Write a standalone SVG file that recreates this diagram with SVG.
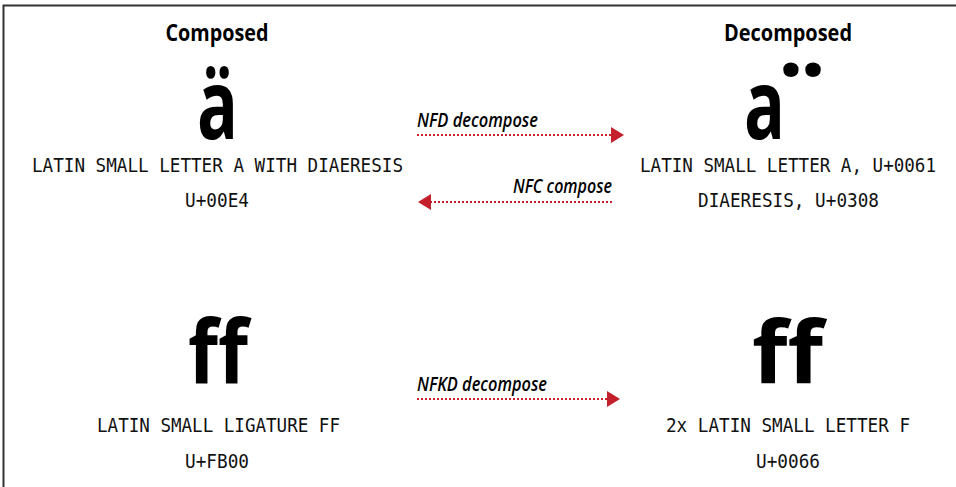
<svg xmlns="http://www.w3.org/2000/svg" width="956" height="487" viewBox="0 0 956 487">
<defs>
<style>
.hd{font-family:"Open Sans","DejaVu Sans",sans-serif;font-weight:700;font-size:23px;fill:#000;text-anchor:middle}
.big{font-family:"Open Sans","DejaVu Sans",sans-serif;font-weight:700;fill:#000}
.mono{font-family:"DejaVu Sans Mono","Liberation Mono",monospace;font-size:19px;fill:#111}
.lbl{font-family:"Open Sans","DejaVu Sans",sans-serif;font-style:italic;font-weight:600;font-size:19px;fill:#000}
.arr{stroke:#c4202b;stroke-width:2.2;stroke-dasharray:2 2;fill:none}
</style>
<marker id="ah" viewBox="0 0 13 16" refX="0" refY="8" markerWidth="13" markerHeight="16" markerUnits="userSpaceOnUse" orient="auto">
<path d="M0,0 L13,8 L0,16 Z" fill="#c4202b"/>
</marker>
</defs>
<rect width="956" height="487" fill="#fff"/>
<path d="M3.5,487 V5.5 H956" fill="none" stroke="#333" stroke-width="2"/>

<g id="composed-a">
<text class="hd" x="217" y="41" textLength="103" lengthAdjust="spacingAndGlyphs">Composed</text>
<text class="big" x="197" y="139" font-size="96" textLength="41" lengthAdjust="spacingAndGlyphs">ä</text>
<text class="mono" x="32" y="172" textLength="371" lengthAdjust="spacingAndGlyphs">LATIN SMALL LETTER A WITH DIAERESIS</text>
<text class="mono" x="185" y="207" textLength="64" lengthAdjust="spacingAndGlyphs">U+00E4</text>
</g>

<g id="decomposed-a">
<text class="hd" x="788" y="41" textLength="128" lengthAdjust="spacingAndGlyphs">Decomposed</text>
<text class="big" font-size="96"><tspan x="744" y="139" textLength="41" lengthAdjust="spacingAndGlyphs">a</tspan><tspan x="802" y="146" font-size="112" text-anchor="middle">¨</tspan></text>
<text class="mono" x="640" y="172" textLength="296" lengthAdjust="spacingAndGlyphs">LATIN SMALL LETTER A, U+0061</text>
<text class="mono" x="698" y="207" textLength="181" lengthAdjust="spacingAndGlyphs">DIAERESIS, U+0308</text>
</g>

<g id="composed-ff">
<text class="big" x="188" y="383" font-size="88" textLength="60" lengthAdjust="spacingAndGlyphs">ff</text>
<text class="mono" x="97" y="432" textLength="243" lengthAdjust="spacingAndGlyphs">LATIN SMALL LIGATURE FF</text>
<text class="mono" x="185" y="468" textLength="64" lengthAdjust="spacingAndGlyphs">U+FB00</text>
</g>

<g id="decomposed-ff">
<text class="big" x="752" y="383" font-size="86" textLength="71" lengthAdjust="spacingAndGlyphs">ff</text>
<text class="mono" x="666" y="432" textLength="244" lengthAdjust="spacingAndGlyphs">2x LATIN SMALL LETTER F</text>
<text class="mono" x="756" y="468" textLength="64" lengthAdjust="spacingAndGlyphs">U+0066</text>
</g>

<g id="connectors">
<line class="arr" x1="417" y1="135" x2="611" y2="135" marker-end="url(#ah)"/>
<text class="lbl" x="417" y="127" textLength="121" lengthAdjust="spacingAndGlyphs">NFD decompose</text>
<line class="arr" x1="612" y1="202" x2="431" y2="202" marker-end="url(#ah)"/>
<text class="lbl" x="513" y="193" textLength="99" lengthAdjust="spacingAndGlyphs">NFC compose</text>
<line class="arr" x1="417" y1="399" x2="607" y2="399" marker-end="url(#ah)"/>
<text class="lbl" x="417" y="391" textLength="130" lengthAdjust="spacingAndGlyphs">NFKD decompose</text>
</g>
</svg>
